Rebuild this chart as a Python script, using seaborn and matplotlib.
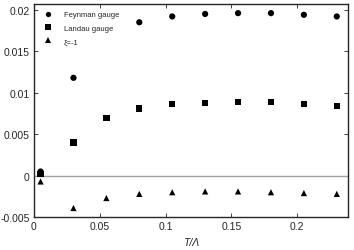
import matplotlib
matplotlib.use("Agg")
import matplotlib.pyplot as plt
import numpy as np
import pandas as pd
import seaborn as sns

# data
t_feynman = [0.005, 0.03, 0.08, 0.105, 0.13, 0.155, 0.18, 0.205, 0.23]
feynman = [0.0005, 0.0118, 0.0185, 0.0192, 0.0195, 0.0196, 0.0196, 0.0194, 0.0192]
t_landau = [0.005, 0.03, 0.055, 0.08, 0.105, 0.13, 0.155, 0.18, 0.205, 0.23]
landau = [0.0002, 0.0040, 0.0070, 0.0081, 0.0086, 0.0088, 0.0089, 0.0089, 0.0086, 0.0084]
t_xi = [0.005, 0.03, 0.055, 0.08, 0.105, 0.13, 0.155, 0.18, 0.205, 0.23]
xi = [-0.0007, -0.0039, -0.0027, -0.0022, -0.0020, -0.0019, -0.0019, -0.0020, -0.0021, -0.0022]

xticks = [0, 0.05, 0.1, 0.15, 0.2]
xtick_labels = ["0", "0.05", "0.1", "0.15", "0.2"]
yticks = [-0.005, 0, 0.005, 0.01, 0.015, 0.02]
ytick_labels = ["-0.005", "0", "0.005", "0.01", "0.015", "0.02"]

df = pd.concat([
    pd.DataFrame({"T": t_feynman, "val": feynman, "gauge": "Feynman gauge"}),
    pd.DataFrame({"T": t_landau, "val": landau, "gauge": "Landau gauge"}),
    pd.DataFrame({"T": t_xi, "val": xi, "gauge": "ξ=-1"}),
])

sns.set_style("ticks")
plt.rcParams["font.family"] = ["Liberation Sans", "DejaVu Sans"]

fig = plt.figure(figsize=(3.54, 2.51), dpi=100)
ax = fig.add_axes([0.096, 0.131, 0.887, 0.849])

ax.axhline(0, color="#a0a0a0", linewidth=1.0, zorder=1)
sns.scatterplot(
    data=df, x="T", y="val", style="gauge",
    markers={"Feynman gauge": "o", "Landau gauge": "s", "ξ=-1": "^"},
    color="black", s=20, linewidth=0, ax=ax, zorder=3,
)

ax.set_xlim(0, 0.2385)
ax.set_ylim(-0.005, 0.0207)
ax.set_xticks(xticks)
ax.set_xticklabels(xtick_labels)
ax.set_yticks(yticks)
ax.set_yticklabels(ytick_labels)
ax.tick_params(direction="in", length=3, width=0.6, labelsize=7.5,
               top=True, right=True, pad=3)
for sp in ax.spines.values():
    sp.set_linewidth(1.0)

ax.set_xlabel("T/Λ", fontsize=7.5, style="italic", labelpad=4)
ax.set_ylabel("")

ax.legend(loc="upper left", frameon=False, fontsize=5.5, title=None,
          handletextpad=1.0, labelspacing=0.8, borderaxespad=0.5,
          markerscale=0.85)

fig.savefig("out.png", dpi=100)
